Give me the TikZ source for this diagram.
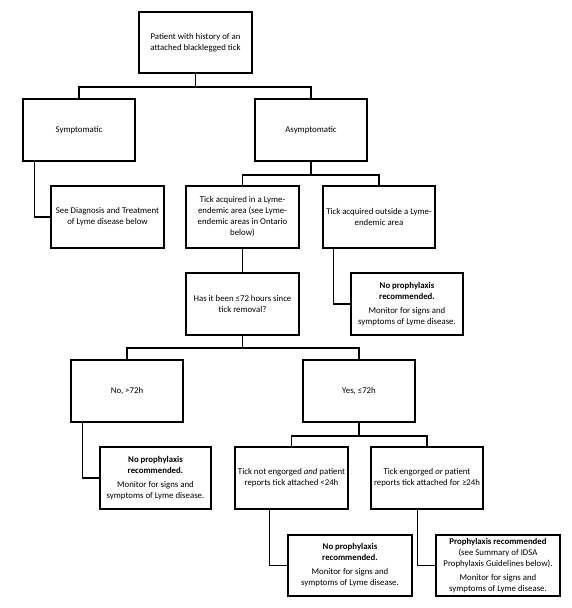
\documentclass[tikz,border=0pt]{standalone}
\usepackage{fontspec}
\setmainfont{Carlito}
\begin{document}
\begin{tikzpicture}[x=1pt,y=-1pt,
  box/.style={draw,line width=1.5pt,inner sep=0pt,align=center,font=\fontsize{8.8}{11}\selectfont},
  wire/.style={line width=1.5pt}]
\useasboundingbox (0,0) rectangle (571,608);
\node[box,minimum width=113,minimum height=61] (root) at (195.5,42.5) {Patient with history of an\\attached blacklegged tick};
\node[box,minimum width=112,minimum height=62] (symp) at (79,130) {Symptomatic};
\node[box,minimum width=112,minimum height=62] (asym) at (311,130) {Asymptomatic};
\node[box,minimum width=113,minimum height=62] (diag) at (107.5,217) {See Diagnosis and Treatment\\of Lyme disease below};
\node[box,minimum width=113,minimum height=62] (inA) at (242.5,217) {Tick acquired in a Lyme-\\endemic area (see Lyme-\\endemic areas in Ontario\\below)};
\node[box,minimum width=112,minimum height=62] (outA) at (379,217) {Tick acquired outside a Lyme-\\endemic area};
\node[box,minimum width=113,minimum height=62] (has) at (242.5,304) {Has it been ≤72 hours since\\tick removal?};
\node[box,minimum width=112,minimum height=62] (nop1) at (407,304) {\textbf{No prophylaxis}\\\textbf{recommended.}\\[3pt]Monitor for signs and\\symptoms of Lyme disease.};
\node[box,minimum width=112,minimum height=62] (no72) at (127,391) {No, >72h};
\node[box,minimum width=112,minimum height=62] (yes72) at (359,391) {Yes, ≤72h};
\node[box,minimum width=111,minimum height=62] (nop2) at (155.5,478) {\textbf{No prophylaxis}\\\textbf{recommended.}\\[3pt]Monitor for signs and\\symptoms of Lyme disease.};
\node[box,minimum width=113,minimum height=62] (ne) at (291.5,478) {Tick not engorged \textit{and} patient\\reports tick attached <24h};
\node[box,minimum width=112,minimum height=62] (en) at (427,478) {Tick engorged \textit{or} patient\\reports tick attached for ≥24h};
\node[box,minimum width=124,minimum height=61] (nop3) at (350,565.5) {\textbf{No prophylaxis}\\\textbf{recommended.}\\[3pt]Monitor for signs and\\symptoms of Lyme disease.};
\node[box,minimum width=124,minimum height=61] (pro) at (498,565.5) {\textbf{Prophylaxis recommended}\\(see Summary of IDSA\\Prophylaxis Guidelines below).\\[3pt]Monitor for signs and\\symptoms of Lyme disease.};
% connectors
\draw[wire] (root.south) -- ++(0,13) -| (symp.north);
\draw[wire] (root.south) -- ++(0,13) -| (asym.north);
\draw[wire] (asym.south) -- ++(0,13) -| (inA.north);
\draw[wire] (asym.south) -- ++(0,13) -| (outA.north);
\draw[wire] (inA.south) -- (has.north);
\draw[wire] (has.south) -- ++(0,12) -| (no72.north);
\draw[wire] (has.south) -- ++(0,12) -| (yes72.north);
\draw[wire] (yes72.south) -- ++(0,13) -| (ne.north);
\draw[wire] (yes72.south) -- ++(0,13) -| (en.north);
\draw[wire] ([xshift=12pt]symp.south west) |- (diag.west);
\draw[wire] ([xshift=11pt]outA.south west) |- (nop1.west);
\draw[wire] ([xshift=12pt]no72.south west) |- (nop2.west);
\draw[wire] ([xshift=35pt]ne.south west) |- (nop3.west);
\draw[wire] ([xshift=47pt]en.south west) |- (pro.west);
\end{tikzpicture}
\end{document}
